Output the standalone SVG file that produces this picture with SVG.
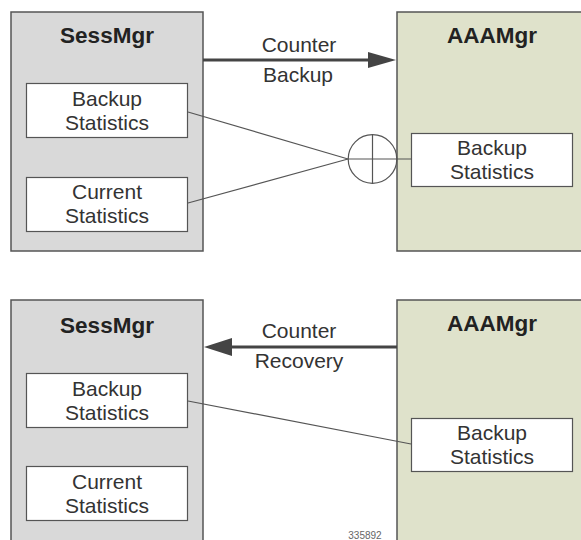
<svg xmlns="http://www.w3.org/2000/svg" width="581" height="540" viewBox="0 0 581 540">
<style>
.mgr{fill:#d9d9d9;stroke:#555;stroke-width:1.5}
.aaa{fill:#dfe2cb;stroke:#555;stroke-width:1.5}
.box{fill:#fff;stroke:#555;stroke-width:1.2}
.title{font-family:"Liberation Sans",Arial,sans-serif;font-weight:bold;font-size:22.5px;fill:#222;text-anchor:middle}
.lbl{font-family:"Liberation Sans",Arial,sans-serif;font-size:21px;fill:#333;text-anchor:middle}
.ln{stroke:#555;stroke-width:1.2;fill:none}
.arr{stroke:#444;stroke-width:2.8;fill:none}
.head{fill:#444}
</style>
<rect width="581" height="540" fill="#fff"/>
<g id="sessmgr-top">
<rect class="mgr" x="11" y="12" width="192" height="239"/>
<text class="title" x="107" y="43">SessMgr</text>
</g>
<g id="sess-backup-top">
<rect class="box" x="26.5" y="83.5" width="161" height="54"/>
<text class="lbl" x="107" y="106">Backup</text>
<text class="lbl" x="107" y="130">Statistics</text>
</g>
<g id="sess-current-top">
<rect class="box" x="26.5" y="177.5" width="161" height="54"/>
<text class="lbl" x="107" y="199">Current</text>
<text class="lbl" x="107" y="223">Statistics</text>
</g>
<g id="aaamgr-top">
<rect class="aaa" x="397" y="12" width="190" height="239"/>
<text class="title" x="492" y="43">AAAMgr</text>
</g>
<g id="aaa-backup-top">
<rect class="box" x="411.5" y="133.5" width="161" height="53"/>
<text class="lbl" x="492" y="155">Backup</text>
<text class="lbl" x="492" y="179">Statistics</text>
</g>
<g id="sessmgr-bottom">
<rect class="mgr" x="11" y="300" width="192" height="250"/>
<text class="title" x="107" y="333">SessMgr</text>
</g>
<g id="sess-backup-bottom">
<rect class="box" x="26.5" y="373.5" width="161" height="54"/>
<text class="lbl" x="107" y="396">Backup</text>
<text class="lbl" x="107" y="420">Statistics</text>
</g>
<g id="sess-current-bottom">
<rect class="box" x="26.5" y="466.5" width="161" height="54"/>
<text class="lbl" x="107" y="489">Current</text>
<text class="lbl" x="107" y="513">Statistics</text>
</g>
<g id="aaamgr-bottom">
<rect class="aaa" x="397" y="300" width="190" height="250"/>
<text class="title" x="492" y="331">AAAMgr</text>
</g>
<g id="aaa-backup-bottom">
<rect class="box" x="411.5" y="418.5" width="161" height="53"/>
<text class="lbl" x="492" y="440">Backup</text>
<text class="lbl" x="492" y="464">Statistics</text>
</g>
<g id="connectors">
<line class="arr" x1="203" y1="60" x2="370" y2="60"/>
<polygon class="head" points="368,52 396,60 368,68"/>
<text class="lbl" x="299" y="52">Counter</text>
<text class="lbl" x="298" y="82">Backup</text>
<line class="ln" x1="188" y1="112" x2="348" y2="159"/>
<line class="ln" x1="188" y1="203" x2="348" y2="159"/>
<circle class="ln" cx="372.5" cy="159" r="24.3"/>
<line class="ln" x1="348" y1="159" x2="411" y2="159"/>
<line class="ln" x1="372.5" y1="135" x2="372.5" y2="183"/>
<line class="arr" x1="397" y1="347" x2="230" y2="347"/>
<polygon class="head" points="232,338 204,347 232,356"/>
<text class="lbl" x="299" y="338">Counter</text>
<text class="lbl" x="299" y="368">Recovery</text>
<line class="ln" x1="188" y1="401" x2="411" y2="444"/>
</g>
<text x="365" y="538.5" font-family="'Liberation Sans',Arial,sans-serif" font-size="10" fill="#666" text-anchor="middle">335892</text>
</svg>
